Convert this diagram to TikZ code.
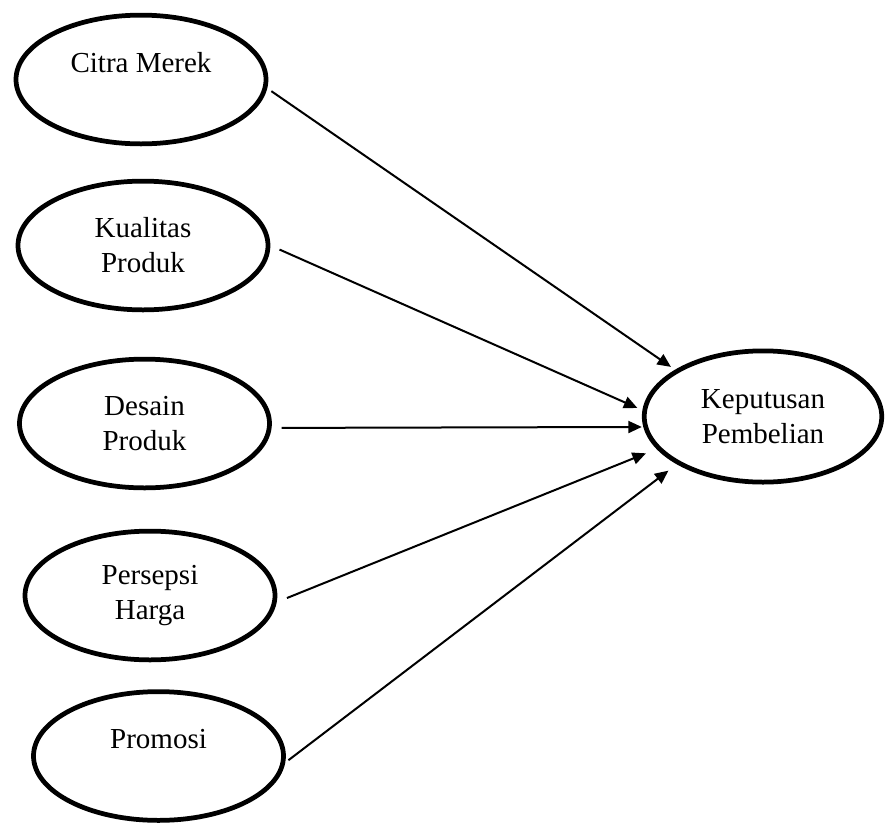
\documentclass[tikz,border=0pt]{standalone}
\usepackage{fontspec}
\setmainfont{Liberation Serif}
\usepackage{tikz}
\usetikzlibrary{arrows.meta, positioning, shapes.geometric}
\definecolor{kpdark}{HTML}{000000}
\tikzset{
  var/.style={ellipse, draw=kpdark, line width=1.9pt, minimum width=100pt, minimum height=51.5pt,
    inner sep=0pt, font=\fontsize{11.6}{14}\selectfont, align=center, fill=white},
  dep/.style={var, minimum width=95pt, minimum height=52.5pt},
  arr/.style={-{Triangle[length=5.4pt, width=4.8pt]}, line width=0.8pt, kpdark},
}

\begin{document}
\begin{tikzpicture}[x=0.4pt, y=-0.4pt]
    \useasboundingbox (0,0) rectangle (888,827);
    % Independent variables
    \node[var] (citra) at (141,79.5) {Citra Merek\\\mbox{}};
    \node[var] (kualitas) at (143,245.5) {Kualitas\\Produk};
    \node[var] (desain) at (144.5,423.5) {Desain\\Produk};
    \node[var] (persepsi) at (150,595.5) {Persepsi\\Harga};
    \node[var] (promosi) at (158.5,756) {Promosi\\\mbox{}};
    % Dependent variable
    \node[dep] (keputusan) at (763,416.5) {Keputusan\\Pembelian};

    \draw[arr, shorten <=2pt, shorten >=2pt] (citra.-4) -- (keputusan.152);
    \draw[arr, shorten <=4pt, shorten >=2.2pt] (kualitas.east) -- (keputusan.177);
    \draw[arr, shorten <=4pt, shorten >=0.6pt] (desain.-2) -- (keputusan.185);
    \draw[arr, shorten <=4.4pt, shorten >=4.6pt] (persepsi.-3.5) -- (keputusan.197);
    \draw[arr, shorten <=1.6pt, shorten >=4.2pt] (promosi.-3) -- (keputusan.209);
  \end{tikzpicture}
\end{document}
